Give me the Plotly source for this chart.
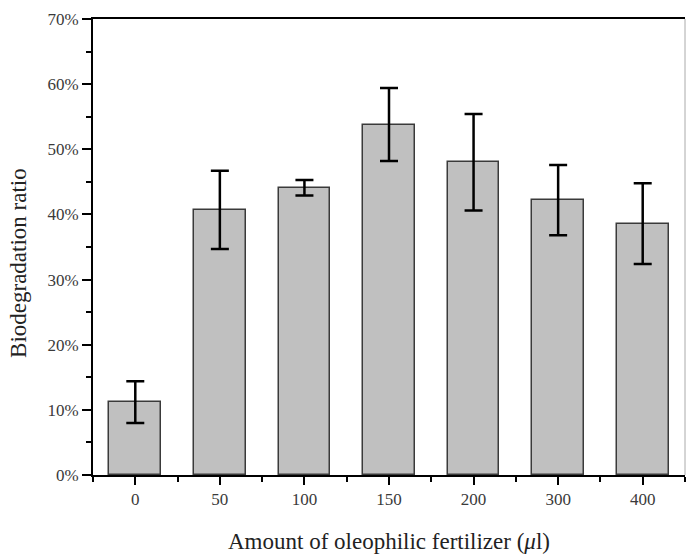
import plotly.graph_objects as go

categories = ["0", "50", "100", "150", "200", "300", "400"]
ratio = [0.112, 0.407, 0.441, 0.538, 0.480, 0.422, 0.386]
err = [0.032, 0.060, 0.012, 0.056, 0.074, 0.054, 0.062]

x_title = "Amount of oleophilic fertilizer (<i>μ</i>l)"
y_title = "Biodegradation ratio"

xpos = list(range(len(categories)))

fig = go.Figure()
fig.add_trace(go.Bar(
    x=xpos, y=ratio, width=0.61,
    marker=dict(color="#c0c0c0", line=dict(color="#3a3a3a", width=1.5)),
    error_y=dict(type="data", array=err, visible=True, color="black", thickness=2.5, width=9),
    showlegend=False,
))

font_family = "Liberation Serif, DejaVu Serif, serif"

fig.update_layout(
    width=686, height=560,
    margin=dict(l=93, r=1, t=19, b=85),
    plot_bgcolor="white", paper_bgcolor="white",
    font=dict(family=font_family, color="#222"),
    bargap=0,
)
fig.update_xaxes(
    range=[-0.5, 6.5],
    tickmode="array", tickvals=xpos, ticktext=categories,
    ticks="outside", ticklen=8, tickwidth=2, tickcolor="black",
    minor=dict(tickvals=[i + 0.5 for i in range(-1, len(categories))], ticks="outside", ticklen=5, tickwidth=2, tickcolor="black"),
    showline=True, linewidth=2, linecolor="black", mirror=True,
    showgrid=False, zeroline=False,
    tickfont=dict(size=17, color="#3a3a3a"),
)
fig.update_yaxes(
    range=[0, 0.7], dtick=0.1, tickformat=".0%",
    ticks="outside", ticklen=9, tickwidth=2, tickcolor="black",
    minor=dict(dtick=0.05, ticks="outside", ticklen=5, tickwidth=2, tickcolor="black"),
    showline=True, linewidth=2, linecolor="black",
    showgrid=False, zeroline=False,
    tickfont=dict(size=17, color="#3a3a3a"),
)
fig.add_shape(type="line", xref="paper", yref="paper", x0=1, x1=1, y0=0, y1=1,
              line=dict(color="#aaaaaa", width=1))
fig.add_annotation(text=x_title, xref="paper", yref="paper", x=0.5, y=-0.145,
                   xanchor="center", yanchor="middle", showarrow=False,
                   font=dict(size=23, color="#222"))
fig.add_annotation(text=y_title, xref="paper", yref="paper", x=-0.125, y=0.465,
                   xanchor="center", yanchor="middle", showarrow=False, textangle=-90,
                   font=dict(size=23, color="#222"))

fig.write_html("out.html")
